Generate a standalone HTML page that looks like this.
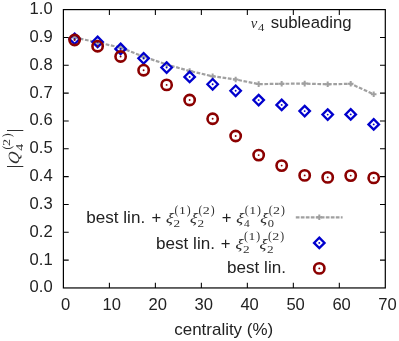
<!DOCTYPE html>
<html><head><meta charset="utf-8"><title>plot</title>
<style>
html,body{margin:0;padding:0;background:#fff;}
body{width:399px;height:341px;overflow:hidden;font-family:"Liberation Sans",sans-serif;}
svg{display:block;will-change:transform;}
</style></head><body>
<svg width="399" height="341" viewBox="0 0 399 341" font-family="Liberation Sans, sans-serif">
<rect width="399" height="341" fill="#fff"/>
<path d="M63.4 260.12h5.3M385.3 260.12h-5.3M63.4 232.28h5.3M385.3 232.28h-5.3M63.4 204.44h5.3M385.3 204.44h-5.3M63.4 176.61h5.3M385.3 176.61h-5.3M63.4 148.78h5.3M385.3 148.78h-5.3M63.4 120.94h5.3M385.3 120.94h-5.3M63.4 93.11h5.3M385.3 93.11h-5.3M63.4 65.27h5.3M385.3 65.27h-5.3M63.4 37.44h5.3M385.3 37.44h-5.3M109.39 287.95v-5.3M109.39 9.6v5.3M155.37 287.95v-5.3M155.37 9.6v5.3M201.36 287.95v-5.3M201.36 9.6v5.3M247.34 287.95v-5.3M247.34 9.6v5.3M293.33 287.95v-5.3M293.33 9.6v5.3M339.31 287.95v-5.3M339.31 9.6v5.3" stroke="#000" stroke-width="1.05" fill="none"/>
<rect x="63.4" y="9.6" width="321.90" height="278.35" fill="none" stroke="#000" stroke-width="1.2"/>
<text x="52.7" y="292.40" font-size="16.6" text-anchor="end" fill="#222">0.0</text>
<text x="52.7" y="264.56" font-size="16.6" text-anchor="end" fill="#222">0.1</text>
<text x="52.7" y="236.73" font-size="16.6" text-anchor="end" fill="#222">0.2</text>
<text x="52.7" y="208.89" font-size="16.6" text-anchor="end" fill="#222">0.3</text>
<text x="52.7" y="181.06" font-size="16.6" text-anchor="end" fill="#222">0.4</text>
<text x="52.7" y="153.22" font-size="16.6" text-anchor="end" fill="#222">0.5</text>
<text x="52.7" y="125.39" font-size="16.6" text-anchor="end" fill="#222">0.6</text>
<text x="52.7" y="97.56" font-size="16.6" text-anchor="end" fill="#222">0.7</text>
<text x="52.7" y="69.72" font-size="16.6" text-anchor="end" fill="#222">0.8</text>
<text x="52.7" y="41.89" font-size="16.6" text-anchor="end" fill="#222">0.9</text>
<text x="52.7" y="14.05" font-size="16.6" text-anchor="end" fill="#222">1.0</text>
<text x="65.70" y="309.5" font-size="16.6" text-anchor="middle" fill="#222">0</text>
<text x="111.69" y="309.5" font-size="16.6" text-anchor="middle" fill="#222">10</text>
<text x="157.67" y="309.5" font-size="16.6" text-anchor="middle" fill="#222">20</text>
<text x="203.66" y="309.5" font-size="16.6" text-anchor="middle" fill="#222">30</text>
<text x="249.64" y="309.5" font-size="16.6" text-anchor="middle" fill="#222">40</text>
<text x="295.63" y="309.5" font-size="16.6" text-anchor="middle" fill="#222">50</text>
<text x="341.61" y="309.5" font-size="16.6" text-anchor="middle" fill="#222">60</text>
<text x="387.60" y="309.5" font-size="16.6" text-anchor="middle" fill="#222">70</text>
<text transform="translate(174.28 334.60) scale(1.022 1)" font-size="16.6" style="font-family:'Liberation Sans',sans-serif" fill="#222" >centrality (%)</text>
<text transform="translate(86.30 223.10) scale(1.029 1)" font-size="16.6" style="font-family:'Liberation Sans',sans-serif" fill="#222" >best lin.</text>
<text x="156.30" y="223.10" font-size="16.6" text-anchor="middle" fill="#222">+</text>
<text transform="translate(165.51 223.10) scale(1.192 1) skewX(-8)" font-size="14.5" style="font-family:'Liberation Serif',serif;font-style:italic" fill="#303030" >ξ</text>
<text transform="translate(173.42 227.40) scale(1.230 1)" font-size="10.75" style="font-family:'Liberation Serif',serif" fill="#303030" >2</text>
<text transform="translate(174.49 214.40) scale(0.973 1)" font-size="12" style="font-family:'Liberation Serif',serif" fill="#303030" >(</text>
<text transform="translate(178.90 214.10) scale(1.268 1)" font-size="10.75" style="font-family:'Liberation Serif',serif" fill="#303030" >1</text>
<text transform="translate(186.72 214.40) scale(0.973 1)" font-size="12" style="font-family:'Liberation Serif',serif" fill="#303030" >)</text>
<text transform="translate(189.51 223.10) scale(1.192 1) skewX(-8)" font-size="14.5" style="font-family:'Liberation Serif',serif;font-style:italic" fill="#303030" >ξ</text>
<text transform="translate(197.42 227.40) scale(1.230 1)" font-size="10.75" style="font-family:'Liberation Serif',serif" fill="#303030" >2</text>
<text transform="translate(198.49 214.40) scale(0.973 1)" font-size="12" style="font-family:'Liberation Serif',serif" fill="#303030" >(</text>
<text transform="translate(202.79 214.10) scale(1.299 1)" font-size="10.75" style="font-family:'Liberation Serif',serif" fill="#303030" >2</text>
<text transform="translate(210.72 214.40) scale(0.973 1)" font-size="12" style="font-family:'Liberation Serif',serif" fill="#303030" >)</text>
<text x="226.50" y="223.10" font-size="16.6" text-anchor="middle" fill="#222">+</text>
<text transform="translate(235.81 223.10) scale(1.192 1) skewX(-8)" font-size="14.5" style="font-family:'Liberation Serif',serif;font-style:italic" fill="#303030" >ξ</text>
<text transform="translate(244.08 227.40) scale(1.061 1)" font-size="10.75" style="font-family:'Liberation Serif',serif" fill="#303030" >4</text>
<text transform="translate(244.79 214.40) scale(0.973 1)" font-size="12" style="font-family:'Liberation Serif',serif" fill="#303030" >(</text>
<text transform="translate(249.20 214.10) scale(1.268 1)" font-size="10.75" style="font-family:'Liberation Serif',serif" fill="#303030" >1</text>
<text transform="translate(257.02 214.40) scale(0.973 1)" font-size="12" style="font-family:'Liberation Serif',serif" fill="#303030" >)</text>
<text transform="translate(259.81 223.10) scale(1.192 1) skewX(-8)" font-size="14.5" style="font-family:'Liberation Serif',serif;font-style:italic" fill="#303030" >ξ</text>
<text transform="translate(267.82 227.40) scale(1.163 1)" font-size="10.75" style="font-family:'Liberation Serif',serif" fill="#303030" >0</text>
<text transform="translate(268.79 214.40) scale(0.973 1)" font-size="12" style="font-family:'Liberation Serif',serif" fill="#303030" >(</text>
<text transform="translate(273.09 214.10) scale(1.299 1)" font-size="10.75" style="font-family:'Liberation Serif',serif" fill="#303030" >2</text>
<text transform="translate(281.02 214.40) scale(0.973 1)" font-size="12" style="font-family:'Liberation Serif',serif" fill="#303030" >)</text>
<text transform="translate(156.10 248.60) scale(1.029 1)" font-size="16.6" style="font-family:'Liberation Sans',sans-serif" fill="#222" >best lin.</text>
<text x="225.70" y="248.60" font-size="16.6" text-anchor="middle" fill="#222">+</text>
<text transform="translate(235.01 248.60) scale(1.192 1) skewX(-8)" font-size="14.5" style="font-family:'Liberation Serif',serif;font-style:italic" fill="#303030" >ξ</text>
<text transform="translate(242.92 252.90) scale(1.230 1)" font-size="10.75" style="font-family:'Liberation Serif',serif" fill="#303030" >2</text>
<text transform="translate(243.99 239.90) scale(0.973 1)" font-size="12" style="font-family:'Liberation Serif',serif" fill="#303030" >(</text>
<text transform="translate(248.40 239.60) scale(1.268 1)" font-size="10.75" style="font-family:'Liberation Serif',serif" fill="#303030" >1</text>
<text transform="translate(256.22 239.90) scale(0.973 1)" font-size="12" style="font-family:'Liberation Serif',serif" fill="#303030" >)</text>
<text transform="translate(259.01 248.60) scale(1.192 1) skewX(-8)" font-size="14.5" style="font-family:'Liberation Serif',serif;font-style:italic" fill="#303030" >ξ</text>
<text transform="translate(266.92 252.90) scale(1.230 1)" font-size="10.75" style="font-family:'Liberation Serif',serif" fill="#303030" >2</text>
<text transform="translate(267.99 239.90) scale(0.973 1)" font-size="12" style="font-family:'Liberation Serif',serif" fill="#303030" >(</text>
<text transform="translate(272.29 239.60) scale(1.299 1)" font-size="10.75" style="font-family:'Liberation Serif',serif" fill="#303030" >2</text>
<text transform="translate(280.22 239.90) scale(0.973 1)" font-size="12" style="font-family:'Liberation Serif',serif" fill="#303030" >)</text>
<text transform="translate(227.10 272.90) scale(1.029 1)" font-size="16.6" style="font-family:'Liberation Sans',sans-serif" fill="#222" >best lin.</text>
<path d="M295.8 217.3H342.6" stroke="#a0a0a0" stroke-width="2.3" stroke-dasharray="3.7 1.3" fill="none"/>
<path d="M316.50 217.30h5.6M319.30 214.50v5.6" stroke="#a0a0a0" stroke-width="2" fill="none"/>
<path d="M319.30 237.65L324.55 242.90L319.30 248.15L314.05 242.90Z" fill="none" stroke="#0000cd" stroke-width="2.3"/><circle cx="319.30" cy="242.90" r="0.95" fill="#0000cd"/>
<circle cx="319.30" cy="268.40" r="5.15" fill="none" stroke="#8b0000" stroke-width="2.6"/><circle cx="319.30" cy="268.40" r="0.95" fill="#8b0000"/>
<text transform="translate(250.70 28.30) scale(0.939 1)" font-size="15.6" style="font-family:'Liberation Serif',serif;font-style:italic" fill="#303030" >v</text>
<text transform="translate(257.95 30.60) scale(1.181 1)" font-size="10.75" style="font-family:'Liberation Serif',serif" fill="#303030" >4</text>
<text transform="translate(270.63 28.40) scale(1.009 1)" font-size="16.6" style="font-family:'Liberation Sans',sans-serif" fill="#222" >subleading</text>
<g transform="translate(19.3 166.1) rotate(-90)">
<path d="M-0.4 -12.3V4M35.6 -12.3V4" stroke="#303030" stroke-width="1" fill="none"/>
<text transform="translate(1.36 0.00) scale(1.087 1) skewX(-9)" font-size="15.6" style="font-family:'Liberation Serif',serif;font-style:italic" fill="#303030" >Q</text>
<text transform="translate(15.43 3.80) scale(1.301 1)" font-size="10.75" style="font-family:'Liberation Serif',serif" fill="#303030" >4</text>
<text transform="translate(16.69 -8.50) scale(0.973 1)" font-size="12" style="font-family:'Liberation Serif',serif" fill="#303030" >(</text>
<text transform="translate(20.08 -8.80) scale(1.323 1)" font-size="10.75" style="font-family:'Liberation Serif',serif" fill="#303030" >2</text>
<text transform="translate(28.92 -8.50) scale(0.973 1)" font-size="12" style="font-family:'Liberation Serif',serif" fill="#303030" >)</text>
</g>
<polyline points="74.60,37.50 97.61,42.50 120.62,47.60 143.62,56.70 166.63,64.50 189.64,71.00 212.65,76.30 235.66,79.50 258.66,84.10 281.67,83.80 304.68,83.60 327.69,84.30 350.70,83.80 373.70,94.30" fill="none" stroke="#a0a0a0" stroke-width="2.2" stroke-dasharray="3.7 1.6"/>
<path d="M71.80 37.50h5.6M74.60 34.70v5.6" stroke="#a0a0a0" stroke-width="2" fill="none"/>
<path d="M94.81 42.50h5.6M97.61 39.70v5.6" stroke="#a0a0a0" stroke-width="2" fill="none"/>
<path d="M117.82 47.60h5.6M120.62 44.80v5.6" stroke="#a0a0a0" stroke-width="2" fill="none"/>
<path d="M140.82 56.70h5.6M143.62 53.90v5.6" stroke="#a0a0a0" stroke-width="2" fill="none"/>
<path d="M163.83 64.50h5.6M166.63 61.70v5.6" stroke="#a0a0a0" stroke-width="2" fill="none"/>
<path d="M186.84 71.00h5.6M189.64 68.20v5.6" stroke="#a0a0a0" stroke-width="2" fill="none"/>
<path d="M209.85 76.30h5.6M212.65 73.50v5.6" stroke="#a0a0a0" stroke-width="2" fill="none"/>
<path d="M232.86 79.50h5.6M235.66 76.70v5.6" stroke="#a0a0a0" stroke-width="2" fill="none"/>
<path d="M255.86 84.10h5.6M258.66 81.30v5.6" stroke="#a0a0a0" stroke-width="2" fill="none"/>
<path d="M278.87 83.80h5.6M281.67 81.00v5.6" stroke="#a0a0a0" stroke-width="2" fill="none"/>
<path d="M301.88 83.60h5.6M304.68 80.80v5.6" stroke="#a0a0a0" stroke-width="2" fill="none"/>
<path d="M324.89 84.30h5.6M327.69 81.50v5.6" stroke="#a0a0a0" stroke-width="2" fill="none"/>
<path d="M347.90 83.80h5.6M350.70 81.00v5.6" stroke="#a0a0a0" stroke-width="2" fill="none"/>
<path d="M370.90 94.30h5.6M373.70 91.50v5.6" stroke="#a0a0a0" stroke-width="2" fill="none"/>
<path d="M74.60 33.65L79.85 38.90L74.60 44.15L69.35 38.90Z" fill="none" stroke="#0000cd" stroke-width="2.3"/><circle cx="74.60" cy="38.90" r="0.95" fill="#0000cd"/>
<path d="M97.61 36.65L102.86 41.90L97.61 47.15L92.36 41.90Z" fill="none" stroke="#0000cd" stroke-width="2.3"/><circle cx="97.61" cy="41.90" r="0.95" fill="#0000cd"/>
<path d="M120.62 43.65L125.87 48.90L120.62 54.15L115.37 48.90Z" fill="none" stroke="#0000cd" stroke-width="2.3"/><circle cx="120.62" cy="48.90" r="0.95" fill="#0000cd"/>
<path d="M143.62 53.05L148.87 58.30L143.62 63.55L138.37 58.30Z" fill="none" stroke="#0000cd" stroke-width="2.3"/><circle cx="143.62" cy="58.30" r="0.95" fill="#0000cd"/>
<path d="M166.63 62.30L171.88 67.55L166.63 72.80L161.38 67.55Z" fill="none" stroke="#0000cd" stroke-width="2.3"/><circle cx="166.63" cy="67.55" r="0.95" fill="#0000cd"/>
<path d="M189.64 71.65L194.89 76.90L189.64 82.15L184.39 76.90Z" fill="none" stroke="#0000cd" stroke-width="2.3"/><circle cx="189.64" cy="76.90" r="0.95" fill="#0000cd"/>
<path d="M212.65 79.05L217.90 84.30L212.65 89.55L207.40 84.30Z" fill="none" stroke="#0000cd" stroke-width="2.3"/><circle cx="212.65" cy="84.30" r="0.95" fill="#0000cd"/>
<path d="M235.66 85.55L240.91 90.80L235.66 96.05L230.41 90.80Z" fill="none" stroke="#0000cd" stroke-width="2.3"/><circle cx="235.66" cy="90.80" r="0.95" fill="#0000cd"/>
<path d="M258.66 94.85L263.91 100.10L258.66 105.35L253.41 100.10Z" fill="none" stroke="#0000cd" stroke-width="2.3"/><circle cx="258.66" cy="100.10" r="0.95" fill="#0000cd"/>
<path d="M281.67 99.65L286.92 104.90L281.67 110.15L276.42 104.90Z" fill="none" stroke="#0000cd" stroke-width="2.3"/><circle cx="281.67" cy="104.90" r="0.95" fill="#0000cd"/>
<path d="M304.68 105.85L309.93 111.10L304.68 116.35L299.43 111.10Z" fill="none" stroke="#0000cd" stroke-width="2.3"/><circle cx="304.68" cy="111.10" r="0.95" fill="#0000cd"/>
<path d="M327.69 109.35L332.94 114.60L327.69 119.85L322.44 114.60Z" fill="none" stroke="#0000cd" stroke-width="2.3"/><circle cx="327.69" cy="114.60" r="0.95" fill="#0000cd"/>
<path d="M350.70 109.15L355.95 114.40L350.70 119.65L345.45 114.40Z" fill="none" stroke="#0000cd" stroke-width="2.3"/><circle cx="350.70" cy="114.40" r="0.95" fill="#0000cd"/>
<path d="M373.70 119.15L378.95 124.40L373.70 129.65L368.45 124.40Z" fill="none" stroke="#0000cd" stroke-width="2.3"/><circle cx="373.70" cy="124.40" r="0.95" fill="#0000cd"/>
<circle cx="74.60" cy="40.00" r="5.15" fill="none" stroke="#8b0000" stroke-width="2.6"/><circle cx="74.60" cy="40.00" r="0.95" fill="#8b0000"/>
<circle cx="97.61" cy="46.20" r="5.15" fill="none" stroke="#8b0000" stroke-width="2.6"/><circle cx="97.61" cy="46.20" r="0.95" fill="#8b0000"/>
<circle cx="120.62" cy="56.50" r="5.15" fill="none" stroke="#8b0000" stroke-width="2.6"/><circle cx="120.62" cy="56.50" r="0.95" fill="#8b0000"/>
<circle cx="143.62" cy="70.20" r="5.15" fill="none" stroke="#8b0000" stroke-width="2.6"/><circle cx="143.62" cy="70.20" r="0.95" fill="#8b0000"/>
<circle cx="166.63" cy="84.90" r="5.15" fill="none" stroke="#8b0000" stroke-width="2.6"/><circle cx="166.63" cy="84.90" r="0.95" fill="#8b0000"/>
<circle cx="189.64" cy="100.00" r="5.15" fill="none" stroke="#8b0000" stroke-width="2.6"/><circle cx="189.64" cy="100.00" r="0.95" fill="#8b0000"/>
<circle cx="212.65" cy="118.75" r="5.15" fill="none" stroke="#8b0000" stroke-width="2.6"/><circle cx="212.65" cy="118.75" r="0.95" fill="#8b0000"/>
<circle cx="235.66" cy="136.00" r="5.15" fill="none" stroke="#8b0000" stroke-width="2.6"/><circle cx="235.66" cy="136.00" r="0.95" fill="#8b0000"/>
<circle cx="258.66" cy="155.10" r="5.15" fill="none" stroke="#8b0000" stroke-width="2.6"/><circle cx="258.66" cy="155.10" r="0.95" fill="#8b0000"/>
<circle cx="281.67" cy="165.60" r="5.15" fill="none" stroke="#8b0000" stroke-width="2.6"/><circle cx="281.67" cy="165.60" r="0.95" fill="#8b0000"/>
<circle cx="304.68" cy="175.40" r="5.15" fill="none" stroke="#8b0000" stroke-width="2.6"/><circle cx="304.68" cy="175.40" r="0.95" fill="#8b0000"/>
<circle cx="327.69" cy="177.40" r="5.15" fill="none" stroke="#8b0000" stroke-width="2.6"/><circle cx="327.69" cy="177.40" r="0.95" fill="#8b0000"/>
<circle cx="350.70" cy="175.60" r="5.15" fill="none" stroke="#8b0000" stroke-width="2.6"/><circle cx="350.70" cy="175.60" r="0.95" fill="#8b0000"/>
<circle cx="373.70" cy="177.90" r="5.15" fill="none" stroke="#8b0000" stroke-width="2.6"/><circle cx="373.70" cy="177.90" r="0.95" fill="#8b0000"/>
</svg></body></html>
